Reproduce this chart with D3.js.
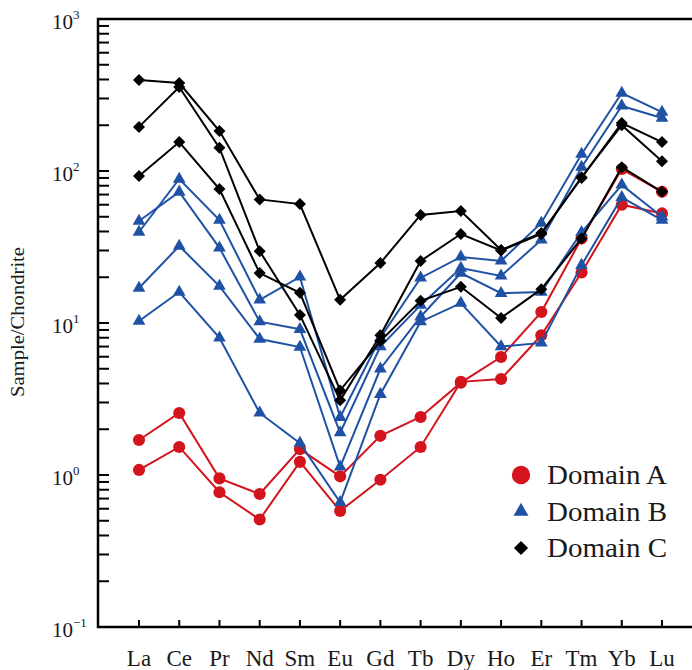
<!DOCTYPE html>
<html>
<head>
<meta charset="utf-8">
<script src="https://cdn.jsdelivr.net/npm/d3@7"></script>
<style>
  body { margin: 0; background: #fff; }
  svg { display: block; font-family: "Liberation Serif", "Times New Roman", serif; }
</style>
</head>
<body>
<svg></svg>
<script>
// REE chondrite-normalised patterns, three domains

const elements = ["La", "Ce", "Pr", "Nd", "Sm", "Eu", "Gd", "Tb", "Dy", "Ho", "Er", "Tm", "Yb", "Lu"];

// Domain A (red circles)
const domainA = [
  [1.70, 2.56, 0.95, 0.75, 1.48, 0.98, 1.81, 2.41, 4.05, 5.97, 11.8, 36, 103, 73],
  [1.08, 1.53, 0.77, 0.51, 1.22, 0.58, 0.93, 1.53, 4.10, 4.28, 8.3, 21.5, 60, 52.6]
];

// Domain B (blue triangles)
const domainB = [
  [39.7, 88.6, 47.6, 14.2, 20.1, 2.4, 8.0, 19.8, 27.2, 25.6, 45.5, 129, 326, 244],
  [46.9, 72.8, 31.2, 10.2, 9.1, 1.9, 7.0, 13.1, 23.0, 20.4, 35.2, 106, 268, 223],
  [17.0, 32.1, 17.5, 7.85, 6.95, 1.13, 5.0, 11.0, 21.3, 15.7, 16.0, 39.5, 81, 50],
  [10.3, 16.0, 8.0, 2.56, 1.62, 0.66, 3.4, 10.2, 13.5, 7.0, 7.4, 24, 67, 47.6]
];

// Domain C (black diamonds)
const domainC = [
  [397, 379, 183, 65, 60.6, 14.2, 24.8, 51.4, 54.6, 30.2, 39.1, 90, 207, 155],
  [195, 357, 142, 29.7, 11.3, 3.1, 8.3, 25.6, 38.5, 30.0, 38.5, 91, 200, 116],
  [92.7, 155, 76, 21.3, 15.8, 3.6, 7.6, 14.0, 17.3, 10.8, 16.7, 36, 106, 73]
];

const legendLabels = ["Domain A", "Domain B", "Domain C"];

const width = 692;
const height = 670;

const svg = d3.select("svg").attr("width", width).attr("height", height);

const plot = { left: 98, top: 19, right: 700, bottom: 627 };

const x = d3.scalePoint().domain(elements).range([139, 662]);
const y = d3.scaleLog().domain([0.1, 1000]).range([plot.bottom, plot.top]);

const red = "#d3141c";
const blue = "#1f52a5";
const black = "#000";

const groups = [
  { rows: domainA, color: red, shape: "circle" },
  { rows: domainB, color: blue, shape: "triangle" },
  { rows: domainC, color: black, shape: "diamond" }
];

// ---- Frame ----
svg.append("rect")
  .attr("x", plot.left)
  .attr("y", plot.top)
  .attr("width", plot.right - plot.left)
  .attr("height", plot.bottom - plot.top)
  .attr("fill", "none")
  .attr("stroke", "#000")
  .attr("stroke-width", 2.5);

// y ticks (inside, every 1..9 per decade)
svg.append("g")
  .selectAll("line")
  .data(y.ticks())
  .join("line")
  .attr("x1", plot.left)
  .attr("x2", plot.left + 11)
  .attr("y1", (d) => y(d))
  .attr("y2", (d) => y(d))
  .attr("stroke", "#000")
  .attr("stroke-width", 2);

// y decade labels
const decades = [-1, 0, 1, 2, 3];
const yLab = svg.append("g")
  .selectAll("text")
  .data(decades)
  .join("text")
  .attr("x", 52)
  .attr("y", (d) => y(Math.pow(10, d)) + 10)
  .attr("font-size", 21)
  .attr("fill", "#1a1a1a");
yLab.append("tspan").text("10");
yLab.append("tspan")
  .attr("font-size", 13)
  .attr("dy", -10)
  .text((d) => (d < 0 ? "\u2212" + Math.abs(d) : d));

// x ticks (inside)
svg.append("g")
  .selectAll("line")
  .data(elements)
  .join("line")
  .attr("x1", (d) => x(d))
  .attr("x2", (d) => x(d))
  .attr("y1", plot.bottom)
  .attr("y2", plot.bottom - 7)
  .attr("stroke", "#000")
  .attr("stroke-width", 2);

svg.append("g")
  .selectAll("text")
  .data(elements)
  .join("text")
  .attr("x", (d) => x(d))
  .attr("y", 666)
  .attr("text-anchor", "middle")
  .attr("font-size", 23)
  .attr("fill", "#1a1a1a")
  .text((d) => d);

// y axis title
svg.append("text")
  .attr("transform", "translate(24,322) rotate(-90)")
  .attr("text-anchor", "middle")
  .attr("font-size", 19)
  .attr("textLength", 150)
  .attr("lengthAdjust", "spacingAndGlyphs")
  .attr("fill", "#1a1a1a")
  .text("Sample/Chondrite");

// ---- Series ----
const line = d3.line()
  .x((d, i) => x(elements[i]))
  .y((d) => y(d));

function symbolPath(shape, scale) {
  if (shape === "circle") return d3.symbol(d3.symbolCircle, 115 * scale)();
  if (shape === "triangle") return d3.symbol(d3.symbolTriangle, 70 * scale)();
  return d3.symbol(d3.symbolSquare, 72 * scale)();
}

groups.forEach((g) => {
  const layer = svg.append("g");
  layer.selectAll("path.ln")
    .data(g.rows)
    .join("path")
    .attr("class", "ln")
    .attr("d", line)
    .attr("fill", "none")
    .attr("stroke", g.color)
    .attr("stroke-width", 2);

  g.rows.forEach((row) => {
    layer.append("g")
      .selectAll("path")
      .data(row)
      .join("path")
      .attr("d", symbolPath(g.shape, 1))
      .attr("transform", (d, i) => {
        const t = `translate(${x(elements[i])},${y(d)})`;
        return g.shape === "diamond" ? t + " rotate(45)" : t;
      })
      .attr("fill", g.color);
  });
});

// ---- Legend ----
const legend = svg.append("g");
groups.forEach((g, i) => {
  const ly = 475 + i * 36.5;
  legend.append("path")
    .attr("d", symbolPath(g.shape, g.shape === "circle" ? 2.3 : 1.4))
    .attr("transform", `translate(521,${ly})` + (g.shape === "diamond" ? " rotate(45)" : ""))
    .attr("fill", g.color);
  legend.append("text")
    .attr("x", 547)
    .attr("y", ly + 9)
    .attr("font-size", 27)
    .attr("textLength", 120)
    .attr("lengthAdjust", "spacingAndGlyphs")
    .attr("fill", "#1a1a1a")
    .text(legendLabels[i]);
});
</script>
</body>
</html>
